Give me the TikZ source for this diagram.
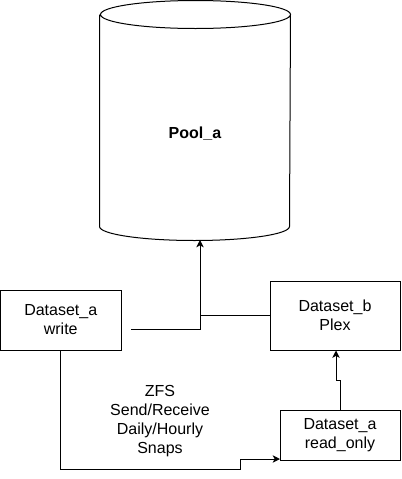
\documentclass[tikz,border=0pt]{standalone}
\usepackage{fontspec}
\setmainfont{Liberation Sans}
\usetikzlibrary{positioning,
	arrows,
	arrows.meta}

\begin{document}
\begin{tikzpicture}[x=0.75pt, y=-0.75pt, line width=0.75pt,
		every node/.style={font=\fontsize{12}{14.3}\selectfont, align=center},
		dsbox/.style={draw, rectangle, inner sep=0pt},
		tip/.style={-{Stealth[length=5.5pt, width=5.5pt, inset=1.5pt]}},
		drumcap/.style={x radius=71.25pt, y radius=10.5pt}]
	\useasboundingbox (0,0) rectangle (401,479);
	\node (pool) [minimum width=142.5pt, minimum height=179.25pt, inner sep=0pt,
		label={[yshift=-9.75pt]center:\textbf{Pool\_a}}] at (195,120.5) {};
	% the drum round the pool
	\draw ([yshift=-10.5pt]pool.north west) -- ([yshift=10.5pt]pool.south west)
		arc[drumcap, start angle=180, end angle=360] -- ([yshift=-10.5pt]pool.north east)
		arc[drumcap, start angle=0, end angle=360];
	\node (write) [dsbox, minimum width=90.4pt, minimum height=45pt] at (60.75,320) {Dataset\_a\\write};
	\node (dsb) [dsbox, minimum width=97.5pt, minimum height=51.75pt] at (335,315.5) {Dataset\_b\\Plex};
	\node (ro) [dsbox, minimum width=90pt, minimum height=37.5pt] at (340,435) {Dataset\_a\\read\_only};
	\node (zfs) at (160,421) {ZFS\\Send/Receive\\Daily/Hourly\\Snaps};
	% bends of the connectors
	\coordinate (wout) at (131,329);
	\coordinate (up) at (200,240);
	\coordinate (roin) at (280,459);
	\draw [tip] (wout) -| (up);
	\draw (dsb.west) -- (dsb.west -| up);
	\draw [tip] (write.south -| 60,0) -- (60,469) -- (240,469) -- (240,459) -- (roin);
	\draw [tip] (ro.north) -- (340,380) -- (336,380) -- (dsb.south -| 336,0);
\end{tikzpicture}
\end{document}
